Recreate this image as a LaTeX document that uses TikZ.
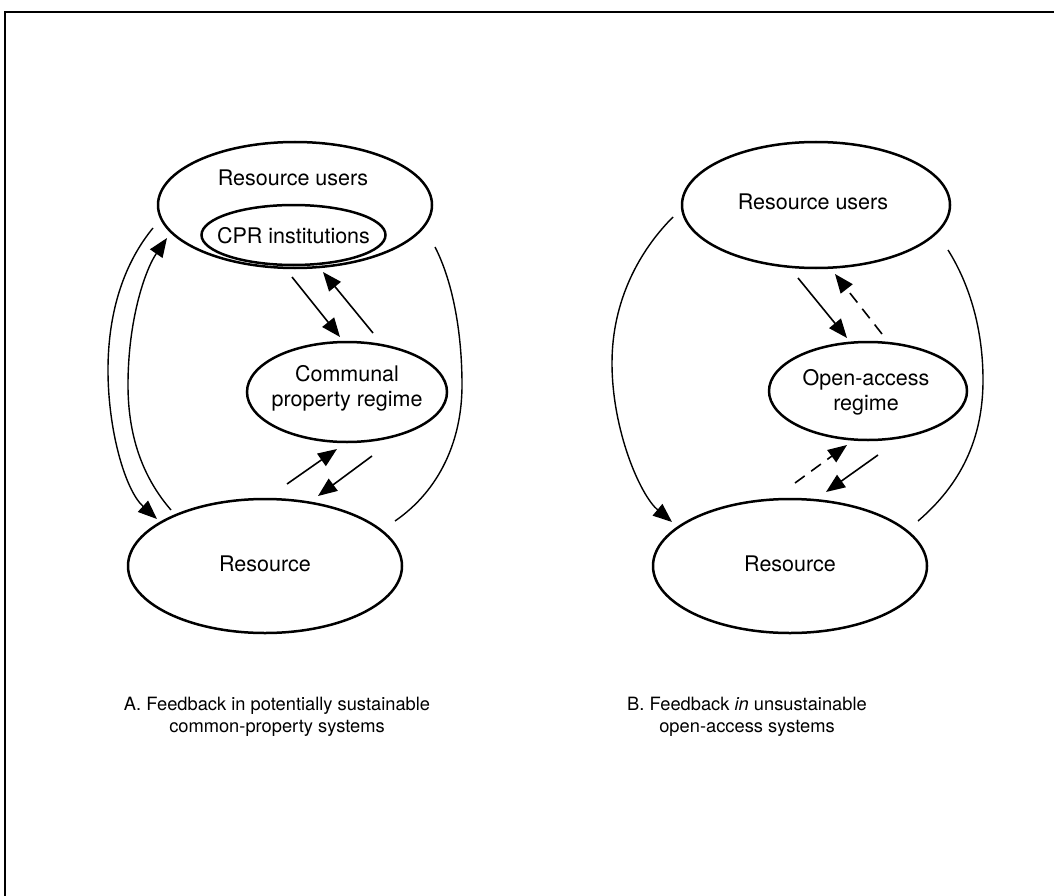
\documentclass[tikz,border=0pt]{standalone}
\usepackage{fontspec}
\setmainfont{TeX Gyre Heros}
\usetikzlibrary{shapes.geometric,arrows.meta}
\begin{document}
\begin{tikzpicture}[x=1pt,y=-1pt,
  oval/.style={draw, ellipse, line width=2.5pt, inner sep=0pt},
  lbl/.style={font=\fontsize{21.5}{25}\selectfont, align=center, inner sep=0pt},
  captext/.style={font=\fontsize{18.3}{22}\selectfont, align=center, inner sep=0pt},
  flow/.style={line width=1.6pt, -{Triangle[length=19pt,width=15pt]}},
  loop/.style={line width=1.4pt, -{Triangle[length=19pt,width=15pt]}},
  weak/.style={flow, dash pattern=on 12pt off 8pt},
  plain/.style={line width=1.4pt},
]
\useasboundingbox (0,0) rectangle (1054,896);

% frame
\draw[line width=1.8pt] (5,896) -- (5,12) -- (1054,12);

% ---------- A: common-property systems ----------
\node[oval, minimum width=274pt, minimum height=126pt] (usersA) at (295,205) {};
\node[lbl] (usersAtxt) at (293,178) {Resource users};
\node[oval, minimum width=184pt, minimum height=60pt] (cpr) at (293.5,235) {};
\node[lbl] (cprtxt) at (293.5,236) {CPR institutions};
\node[oval, minimum width=200pt, minimum height=100pt] (regimeA) at (347,392) {};
\node[lbl] (regimeAtxt) at (347,388) {Communal\\property regime};
\node[oval, minimum width=274pt, minimum height=134pt] (resA) at (265,566) {};
\node[lbl] (resAtxt) at (265,564) {Resource};

% connector ends
\coordinate (A1s) at (292,277); \coordinate (A1e) at (340,337);
\coordinate (A2s) at (373,333); \coordinate (A2e) at (323,272);
\coordinate (A3s) at (287,484); \coordinate (A3e) at (337,449);
\coordinate (A4s) at (372,456); \coordinate (A4e) at (318,496);
\coordinate (A5s) at (153,228); \coordinate (A5e) at (157,519);
\coordinate (A6s) at (171,510); \coordinate (A6e) at (167,238);
\coordinate (A7s) at (435,247); \coordinate (A7e) at (395,521);

\draw[flow] (A1s) -- (A1e);
\draw[flow] (A2s) -- (A2e);
\draw[flow] (A3s) -- (A3e);
\draw[flow] (A4s) -- (A4e);
\draw[loop] (A5s) .. controls (125,262) and (108,310) .. (108,370)
               .. controls (108,430) and (125,490) .. (A5e);
\draw[loop] (A6s) .. controls (145,480) and (128,440) .. (128,385)
               .. controls (128,320) and (145,270) .. (A6e);
\draw[plain] (A7s) .. controls (452,280) and (462,330) .. (462,385)
                .. controls (462,440) and (440,490) .. (A7e);

\node[captext] (capA) at (277,717) {A. Feedback in potentially sustainable\\common-property systems};

% ---------- B: open-access systems ----------
\node[oval, minimum width=268pt, minimum height=126pt] (usersB) at (816,205) {};
\node[lbl] (usersBtxt) at (813,202) {Resource users};
\node[oval, minimum width=198pt, minimum height=98pt] (regimeB) at (868,391) {};
\node[lbl] (regimeBtxt) at (866,392) {Open-access\\regime};
\node[oval, minimum width=274pt, minimum height=134pt] (resB) at (790,566) {};
\node[lbl] (resBtxt) at (790,564) {Resource};

\coordinate (B1s) at (798,278); \coordinate (B1e) at (847,338);
\coordinate (B2s) at (882,334); \coordinate (B2e) at (835,274);
\coordinate (B3s) at (795,483); \coordinate (B3e) at (847,445);
\coordinate (B4s) at (878,455); \coordinate (B4e) at (826,492);
\coordinate (B5s) at (673,217); \coordinate (B5e) at (672,522);
\coordinate (B6s) at (948,250); \coordinate (B6e) at (918,521);

\draw[flow] (B1s) -- (B1e);
\draw[weak] (B2s) -- (B2e);
\draw[weak] (B3s) -- (B3e);
\draw[flow] (B4s) -- (B4e);
\draw[loop] (B5s) .. controls (640,250) and (612,300) .. (612,363)
               .. controls (612,430) and (640,495) .. (B5e);
\draw[plain] (B6s) .. controls (970,285) and (983,330) .. (983,380)
                .. controls (983,440) and (960,485) .. (B6e);

\node[captext] (capB) at (747,717) {B. Feedback \textit{in} unsustainable\\open-access systems};
\end{tikzpicture}
\end{document}
